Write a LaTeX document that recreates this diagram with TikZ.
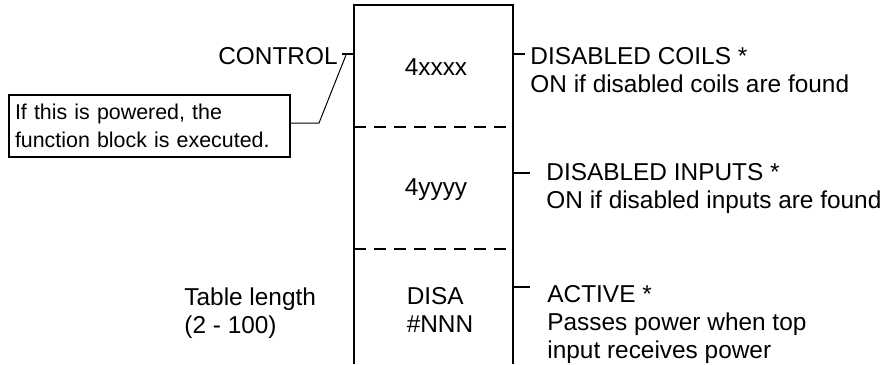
\documentclass[tikz,border=0pt]{standalone}
\usepackage{fontspec}
\setmainfont{Liberation Sans}
\usetikzlibrary{positioning}

\begin{document}
\begin{tikzpicture}[x=0.5pt,y=-0.5pt,
                    every node/.append style = {font=\fontsize{12.2}{14}\selectfont, inner sep=0pt},
                    blockline/.style = {line width=1pt},
                    divider/.style = {line width=0.8pt, dash pattern=on 6pt off 4pt},
                    pin/.style = {line width=1pt},
                    lbl/.style = {anchor=base west, align=left},
                    note/.style = {draw, line width=1pt, inner xsep=3pt, minimum width=140.5pt,
                                   minimum height=31pt, text width=134.5pt, align=left,
                                   font=\fontsize{10.7}{14}\selectfont}]
                \useasboundingbox (0,0) rectangle (888,364);
                % function block, open at the bottom
                \coordinate (tl) at (354,5);
                \coordinate (tr) at (513,5);
                \coordinate (bl) at (354,364);
                \coordinate (br) at (513,364);
                \draw[blockline] (bl) -- (tl) -- (tr) -- (br);
                \coordinate (d1l) at (354,127);
                \coordinate (d1r) at (513,127);
                \coordinate (d2l) at (354,249);
                \coordinate (d2r) at (513,249);
                \draw[divider] (d1l) -- (d1r);
                \draw[divider] (d2l) -- (d2r);
                % cell contents
                \node[anchor=base] (ntop) at (436,75) {4xxxx};
                \node[anchor=base] (nmid) at (436,195) {4yyyy};
                \node[anchor=base, align=left] (nbot) at (440,332) {DISA\\\#NNN};
                % input side
                \node[anchor=base east] (nctrl) at (338,64) {CONTROL};
                \coordinate (in1) at (354,54);
                \coordinate (in1x) at (342,54);
                \draw[pin] (in1x) -- (in1);
                \node[note] (callout) at (149.5,126) {If this is powered, the\\function block is executed.};
                \coordinate (bend) at (319,123);
                \coordinate (tip) at (346,55);
                \draw[line width=0.5pt] (callout.east |- bend) -- (bend) -- (tip);
                \node[lbl] (ntable) at (184,333) {Table length\\(2 - 100)};
                % outputs
                \coordinate (o1) at (513,54);
                \coordinate (o1x) at (525,54);
                \coordinate (o2) at (513,173);
                \coordinate (o2x) at (530,173);
                \coordinate (o3) at (513,287);
                \coordinate (o3x) at (530,287);
                \draw[pin] (o1) -- (o1x);
                \draw[pin] (o2) -- (o2x);
                \draw[pin] (o3) -- (o3x);
                \node[lbl] (ncoils) at (530,92) {DISABLED COILS *\\ON if disabled coils are found};
                \node[lbl] (ninputs) at (546,208) {DISABLED INPUTS *\\ON if disabled inputs are found};
                \node[lbl] (nactive) at (547,358) {ACTIVE *\\Passes power when top\\input receives power};
                \end{tikzpicture}
\end{document}
